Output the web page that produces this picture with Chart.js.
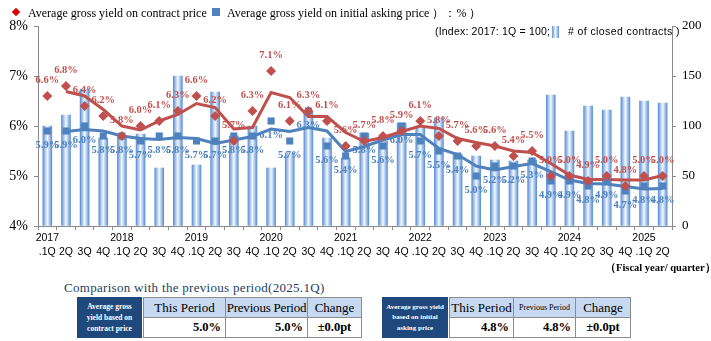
<!DOCTYPE html>
<html>
<head>
<meta charset="utf-8">
<script src="https://cdn.jsdelivr.net/npm/chart.js@4.4.1/dist/chart.umd.min.js"></script>
<style>
  body { margin: 0; background: #fff; }
  #wrap { position: relative; width: 711px; height: 341px; overflow: hidden; background: #fff; }
  #chart { position: absolute; left: 0; top: 0; }
  .serif { font-family: "Liberation Serif", "Times New Roman", serif; }
  .sans { font-family: "Liberation Sans", Arial, sans-serif; }
  .abs { position: absolute; white-space: nowrap; }
  .legend { font-size: 12px; color: #000; top: 6px; line-height: 14px; }
  .mk { position: absolute; }
  .cell { position: absolute; box-sizing: border-box; border: 1px solid #8c8c8c; font-family: "Liberation Serif", serif; color: #000; display: flex; align-items: center; white-space: nowrap; }
  .hd { background: #c6d9f1; justify-content: center; font-size: 13px; }
  .val { background: #fff; font-weight: bold; font-size: 12.5px; justify-content: flex-end; padding-right: 4px; }
  .dark { position: absolute; background: #1f497d; color: #fff; font-family: "Liberation Serif", serif; font-weight: bold; text-align: center; display: flex; align-items: center; justify-content: center; line-height: 1.5; }
</style>
</head>
<body>
<div id="wrap">
  <canvas id="chart" width="711" height="265"></canvas>

  <!-- legend line 1 -->
  <div class="mk" style="left:13px;top:9px;width:6px;height:6px;background:#e00000;transform:rotate(45deg);"></div>
  <div class="abs serif legend" style="left:28px;">Average gross yield on contract price</div>
  <div class="mk" style="left:212px;top:8px;width:8px;height:8px;background:#4f81bd;"></div>
  <div class="abs serif legend" style="left:227px;">Average gross yield on initial asking price ）：% ）</div>

  <!-- legend line 2 -->
  <div class="abs sans" style="left:435px;top:25px;font-size:10.5px;letter-spacing:0.2px;">(Index: 2017: 1Q = 100;</div>
  <div class="mk" style="left:552px;top:26px;width:7px;height:12px;background:linear-gradient(90deg,#5f95d6,#eef4fc,#5f95d6);"></div>
  <div class="abs sans" style="left:568px;top:25px;font-size:10.5px;letter-spacing:0.4px;"># of closed contracts )</div>

  <div class="abs serif" style="left:605px;top:261px;font-size:10.5px;font-weight:bold;">（Fiscal year/ quarter）</div>

  <div class="abs serif" style="left:64px;top:280px;font-size:13px;color:#243f60;letter-spacing:0.3px;">Comparison with the previous period(2025.1Q)</div>

  <!-- table: contract price -->
  <div class="dark" style="left:77px;top:297px;width:65px;height:41px;font-size:7.5px;">Average gross<br>yield based on<br>contract price</div>
  <div class="cell hd" style="left:143px;top:297px;width:83px;height:21px;">This Period</div>
  <div class="cell hd" style="left:225px;top:297px;width:83px;height:21px;letter-spacing:-0.2px;">Previous Period</div>
  <div class="cell hd" style="left:307px;top:297px;width:55px;height:21px;">Change</div>
  <div class="cell val" style="left:143px;top:317px;width:83px;height:21px;">5.0%</div>
  <div class="cell val" style="left:225px;top:317px;width:83px;height:21px;">5.0%</div>
  <div class="cell val" style="left:307px;top:317px;width:55px;height:21px;justify-content:center;padding:0;">±0.0pt</div>

  <!-- table: initial asking price -->
  <div class="dark" style="left:382px;top:297px;width:66px;height:41px;font-size:7px;">Average gross yield<br>based on initial<br>asking price</div>
  <div class="cell hd" style="left:449px;top:297px;width:65px;height:21px;">This Period</div>
  <div class="cell hd" style="left:513px;top:297px;width:63px;height:21px;font-size:8px;">Previous Period</div>
  <div class="cell hd" style="left:575px;top:297px;width:56px;height:21px;">Change</div>
  <div class="cell val" style="left:449px;top:317px;width:65px;height:21px;">4.8%</div>
  <div class="cell val" style="left:513px;top:317px;width:63px;height:21px;">4.8%</div>
  <div class="cell val" style="left:575px;top:317px;width:56px;height:21px;justify-content:center;padding:0;">±0.0pt</div>
</div>

<script>
// fiscal years and quarters on the x axis (2017 1Q .. 2025 2Q)
const fiscalYears = ['2017', '2018', '2019', '2020', '2021', '2022', '2023', '2024', '2025'];
const quarterNames = ['.1Q', '2Q', '3Q', '4Q'];
const lastYearQuarters = 2;

// average gross yield on contract price (%)
const contractYield = [
  6.6, 6.8, 6.4, 6.2,
  5.8, 6.0, 6.1, 6.3,
  6.6, 6.2, 5.7, 6.3,
  7.1, 6.1, 6.3, 6.1,
  5.6, 5.7, 5.8, 5.9,
  6.1, 5.8, 5.7, 5.6,
  5.6, 5.4, 5.5, 5.0,
  5.0, 4.9, 5.0, 4.8,
  5.0, 5.0
];

// average gross yield on initial asking price (%)
const askingYield = [
  5.9, 5.9, 6.0, 5.8,
  5.8, 5.7, 5.8, 5.8,
  5.7, 5.7, 5.8, 5.8,
  6.1, 5.7, 6.3, 5.6,
  5.4, 5.8, 5.6, 6.0,
  5.7, 5.5, 5.4, 5.0,
  5.2, 5.2, 5.3, 4.9,
  4.9, 4.8, 4.9, 4.7,
  4.8, 4.8
];

// trend lines (2-period moving average as plotted)
const contractTrend = [
  null, 6.69, 6.6, 6.33,
  6.0, 5.92, 6.1, 6.23,
  6.45, 6.37, 5.94, 5.97,
  6.67, 6.57, 6.19, 6.19,
  5.87, 5.69, 5.77, 5.89,
  6.0, 5.95, 5.75, 5.67,
  5.6, 5.5, 5.47, 5.25,
  5.02, 4.93, 4.93, 4.92,
  4.92, 5.01
];
const askingTrend = [
  null, 5.89, 5.93, 5.9,
  5.8, 5.75, 5.73, 5.77,
  5.75, 5.65, 5.72, 5.79,
  5.94, 5.89, 5.97, 5.9,
  5.49, 5.59, 5.72, 5.83,
  5.83, 5.55, 5.43, 5.2,
  5.12, 5.19, 5.25, 5.09,
  4.92, 4.85, 4.84, 4.79,
  4.74, 4.75
];

// number of closed contracts (index, 2017 1Q = 100)
const closedContracts = [
  100, 111, 137, 88,
  89, 92, 58, 150,
  61, 134, 90, 100,
  58, 73, 114, 88,
  68, 93, 85, 103,
  100, 108, 72, 70,
  66, 65, 66, 131,
  95, 120, 116, 129,
  125, 123
];

const yieldTicks = [4, 5, 6, 7, 8];
const contractTicks = [0, 50, 100, 150, 200];

// two-line category labels: year under 1Q only
const categories = [];
fiscalYears.forEach((y, yi) => {
  const n = yi === fiscalYears.length - 1 ? lastYearQuarters : 4;
  for (let q = 0; q < n; q++) {
    categories.push([q === 0 ? y : '', quarterNames[q]]);
  }
});

const RED = '#c0504d';
const BLUE = '#4f81bd';
const AXIS = '#8a8a8a';
const serif = '"Liberation Serif", "Times New Roman", serif';
const sans = '"Liberation Sans", Arial, sans-serif';

// light blue bars, darker at the edges
function barFill(context) {
  const chart = context.chart;
  const xs = chart.scales && chart.scales.x;
  if (!xs || context.dataIndex === undefined) return '#a9c4ea';
  const cx = xs.getPixelForValue(context.dataIndex);
  if (!isFinite(cx)) return '#a9c4ea';
  const g = chart.ctx.createLinearGradient(cx - 4.5, 0, cx + 4.5, 0);
  g.addColorStop(0, '#5b91d4');
  g.addColorStop(0.3, '#b9d0ef');
  g.addColorStop(0.5, '#f4f8fd');
  g.addColorStop(0.7, '#b9d0ef');
  g.addColorStop(1, '#5b91d4');
  return g;
}

// value labels above the red diamonds and below the blue squares
const valueLabels = {
  id: 'valueLabels',
  afterDatasetsDraw(chart) {
    const ctx = chart.ctx;
    ctx.save();
    ctx.font = 'bold 10.5px ' + serif;
    ctx.textAlign = 'center';
    ctx.textBaseline = 'middle';
    chart.data.datasets.forEach((ds, i) => {
      if (!ds.labelOffset) return;
      const meta = chart.getDatasetMeta(i);
      ctx.fillStyle = ds.labelColor;
      meta.data.forEach((pt, j) => {
        const v = ds.data[j];
        if (v == null) return;
        ctx.fillText(v.toFixed(1) + '%', pt.x, pt.y + ds.labelOffset);
      });
    });
    ctx.restore();
  }
};

new Chart(document.getElementById('chart'), {
  type: 'bar',
  data: {
    labels: categories,
    datasets: [
      {
        type: 'line',
        data: contractYield,
        yAxisID: 'y',
        showLine: false,
        pointStyle: 'rectRot',
        pointRadius: 5,
        pointBackgroundColor: RED,
        pointBorderWidth: 0,
        labelOffset: -16,
        labelColor: RED,
        order: 1
      },
      {
        type: 'line',
        data: askingYield,
        yAxisID: 'y',
        showLine: false,
        pointStyle: 'rect',
        pointRadius: 5,
        pointBackgroundColor: BLUE,
        pointBorderWidth: 0,
        labelOffset: 14,
        labelColor: BLUE,
        order: 2
      },
      {
        type: 'line',
        data: contractTrend,
        yAxisID: 'y',
        borderColor: RED,
        borderWidth: 3,
        pointRadius: 0,
        tension: 0,
        order: 3
      },
      {
        type: 'line',
        data: askingTrend,
        yAxisID: 'y',
        borderColor: BLUE,
        borderWidth: 3,
        pointRadius: 0,
        tension: 0,
        order: 4
      },
      {
        type: 'bar',
        data: closedContracts,
        yAxisID: 'y1',
        backgroundColor: barFill,
        borderWidth: 0,
        barThickness: 9,
        order: 5
      }
    ]
  },
  options: {
    responsive: false,
    devicePixelRatio: 1,
    animation: false,
    layout: { padding: { top: 26, left: 0, right: 0, bottom: 0 } },
    plugins: { legend: { display: false }, tooltip: { enabled: false } },
    scales: {
      x: {
        offset: true,
        grid: { offset: true, drawOnChartArea: false, tickLength: 4, color: AXIS },
        border: { color: AXIS },
        ticks: { autoSkip: false, maxRotation: 0, padding: 2, color: '#000', font: { family: sans, size: 10.5, lineHeight: 1.25 } },
        afterFit(scale) { scale.height = 39; }
      },
      y: {
        position: 'left',
        min: 4, max: 8,
        afterBuildTicks(scale) { scale.ticks = yieldTicks.map(v => ({ value: v })); },
        grid: { drawOnChartArea: false, tickLength: 4, color: AXIS },
        border: { color: AXIS },
        ticks: { padding: 6, color: '#000', font: { family: serif, size: 14 }, callback: v => v + '%' },
        afterFit(scale) { scale.width = 38; }
      },
      y1: {
        position: 'right',
        min: 0, max: 200,
        afterBuildTicks(scale) { scale.ticks = contractTicks.map(v => ({ value: v })); },
        grid: { drawOnChartArea: false, tickLength: 4, color: AXIS },
        border: { color: AXIS },
        ticks: { padding: 6, color: '#000', font: { family: serif, size: 13 } },
        afterFit(scale) { scale.width = 39; }
      }
    }
  },
  plugins: [valueLabels]
});
</script>
</body>
</html>
